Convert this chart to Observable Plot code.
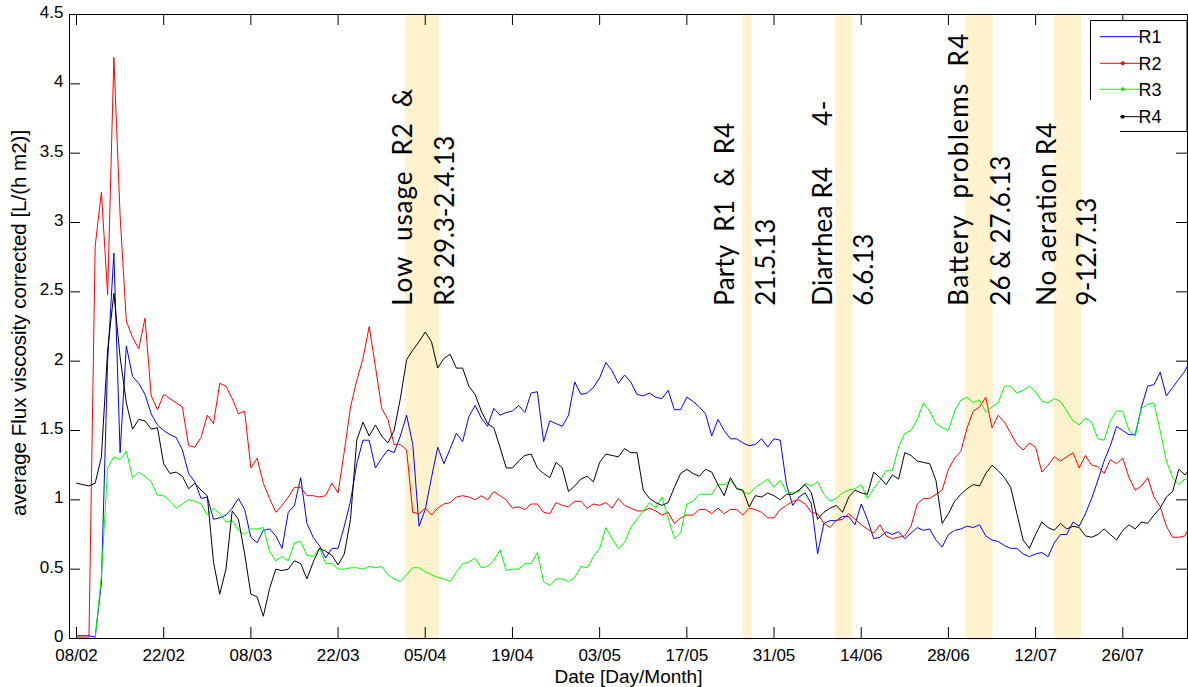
<!DOCTYPE html>
<html><head><meta charset="utf-8">
<script src="https://cdn.jsdelivr.net/npm/d3@7"></script>
<script src="https://cdn.jsdelivr.net/npm/@observablehq/plot@0.6"></script>
<style>
html,body{margin:0;padding:0;background:#fff;}
#chart{width:1188px;height:687px;overflow:hidden;}
</style></head><body><div id="chart"></div>
<script>
// ---- data ----
const startDate = "2013-02-08"; // first daily value
const seriesNames = ["R1", "R2", "R3", "R4"];
const r1 = [0.02,0.02,0.02,0.01,0.40,2.00,2.78,1.34,2.11,1.89,
 1.84,1.76,1.62,1.54,1.50,1.47,1.45,1.36,1.19,1.13,
 1.01,1.02,0.86,0.87,0.89,0.94,1.01,0.93,0.73,0.69,
 0.78,0.79,0.74,0.65,0.91,0.96,1.16,0.83,0.73,0.67,
 0.58,0.65,0.65,0.81,0.99,1.26,1.43,1.43,1.23,1.30,
 1.36,1.34,1.46,1.61,1.40,0.81,0.93,1.16,1.38,1.26,
 1.37,1.48,1.42,1.60,1.68,1.59,1.53,1.66,1.61,1.63,
 1.64,1.68,1.63,1.77,1.78,1.42,1.57,1.55,1.53,1.61,
 1.85,1.76,1.77,1.81,1.88,1.99,1.93,1.84,1.90,1.85,
 1.76,1.75,1.77,1.74,1.73,1.79,1.65,1.65,1.74,1.71,
 1.67,1.62,1.46,1.58,1.50,1.44,1.44,1.41,1.39,1.40,
 1.44,1.38,1.44,1.43,1.11,0.96,1.02,1.05,0.97,0.61,
 0.83,0.85,0.85,0.88,0.88,0.82,0.97,0.86,0.72,0.73,
 0.77,0.75,0.77,0.72,0.76,0.80,0.78,0.79,0.71,0.66,
 0.75,0.78,0.79,0.81,0.80,0.82,0.74,0.71,0.70,0.67,
 0.65,0.65,0.61,0.59,0.61,0.62,0.59,0.69,0.75,0.75,
 0.84,0.81,0.90,1.01,1.14,1.28,1.39,1.53,1.50,1.47,
 1.47,1.67,1.82,1.83,1.92,1.75,1.81,1.87,1.93,2.02];
const r2 = [0.01,0.01,0.01,2.83,3.22,2.48,4.19,3.05,2.29,2.17,
 2.09,2.31,1.75,1.65,1.76,1.73,1.70,1.67,1.39,1.38,
 1.45,1.61,1.55,1.84,1.82,1.73,1.62,1.64,1.23,1.30,
 1.12,1.01,0.91,0.96,1.02,1.09,1.09,1.03,1.03,1.02,
 1.03,1.12,1.05,1.35,1.67,1.86,2.02,2.25,1.96,1.66,
 1.58,1.40,1.40,1.36,0.91,0.90,0.94,0.89,0.94,0.97,
 0.98,1.02,1.03,1.02,1.00,1.03,1.00,1.06,1.03,1.00,
 0.94,0.95,0.93,0.97,0.97,0.91,0.90,0.98,0.96,0.95,
 0.99,0.99,0.94,0.97,0.96,0.98,0.94,1.01,0.96,0.94,
 0.92,0.92,0.94,0.92,0.89,0.91,0.83,0.87,0.89,0.89,
 0.93,0.93,0.90,0.94,0.90,0.93,0.93,0.89,0.94,0.93,
 0.91,0.87,0.87,0.93,0.96,0.99,1.00,0.97,0.91,0.90,
 0.83,0.80,0.85,0.86,0.90,0.86,0.82,0.79,0.76,0.82,
 0.74,0.72,0.73,0.74,0.81,0.97,1.01,1.01,1.04,1.07,
 1.22,1.30,1.35,1.52,1.64,1.67,1.74,1.52,1.61,1.56,
 1.48,1.40,1.36,1.41,1.38,1.20,1.25,1.31,1.28,1.31,
 1.34,1.23,1.32,1.25,1.24,1.19,1.29,1.26,1.30,1.16,
 1.07,1.10,1.16,1.02,0.95,0.81,0.73,0.73,0.74,0.84];
const r3 = [0,0,0,0,0.45,1.23,1.31,1.29,1.35,1.16,
 1.20,1.17,1.13,1.03,1.03,0.99,0.94,0.97,1.00,0.99,
 0.97,0.89,0.94,0.90,0.84,0.85,0.78,0.75,0.79,0.79,
 0.80,0.63,0.56,0.59,0.56,0.69,0.70,0.60,0.59,0.65,
 0.54,0.54,0.50,0.50,0.51,0.51,0.50,0.52,0.51,0.52,
 0.46,0.43,0.41,0.46,0.51,0.51,0.48,0.46,0.44,0.43,
 0.41,0.48,0.54,0.55,0.58,0.51,0.52,0.56,0.64,0.49,
 0.50,0.50,0.54,0.54,0.62,0.41,0.38,0.43,0.43,0.41,
 0.44,0.52,0.51,0.59,0.65,0.80,0.72,0.65,0.69,0.80,
 0.86,0.92,0.98,0.94,1.02,0.87,0.72,0.76,0.97,0.99,
 1.04,1.04,1.04,1.11,1.11,1.14,1.09,1.06,1.04,1.09,
 1.12,1.15,1.09,1.14,1.06,1.05,1.06,1.12,1.10,1.13,
 1.04,0.99,1.01,1.05,1.07,1.08,1.11,1.01,1.08,1.14,
 1.21,1.21,1.38,1.48,1.50,1.58,1.70,1.64,1.55,1.52,
 1.50,1.64,1.72,1.74,1.70,1.72,1.63,1.67,1.70,1.82,
 1.82,1.77,1.79,1.82,1.78,1.71,1.70,1.73,1.71,1.64,
 1.57,1.54,1.59,1.56,1.44,1.43,1.57,1.64,1.64,1.50,
 1.46,1.66,1.69,1.70,1.50,1.28,1.16,1.11,1.15,1.12];
const r4 = [1.12,1.11,1.10,1.12,1.31,2.08,2.49,2.03,1.70,1.51,
 1.58,1.57,1.51,1.52,1.26,1.19,1.20,1.17,1.08,1.12,
 1.07,1.03,0.55,0.32,0.50,0.92,0.86,0.61,0.32,0.30,
 0.16,0.36,0.50,0.49,0.50,0.56,0.54,0.43,0.55,0.65,
 0.63,0.60,0.53,0.61,0.86,1.43,1.56,1.46,1.54,1.46,
 1.41,1.50,1.73,2.01,2.08,2.14,2.21,2.14,1.95,2.02,
 2.05,1.95,1.95,1.82,1.76,1.64,1.55,1.52,1.38,1.23,
 1.23,1.28,1.32,1.33,1.23,1.19,1.16,1.27,1.23,1.06,
 1.10,1.15,1.17,1.13,1.27,1.33,1.32,1.31,1.37,1.34,
 1.34,1.07,1.01,0.98,0.96,0.98,1.09,1.19,1.22,1.19,
 1.17,1.22,1.20,1.11,1.03,1.16,1.08,1.07,0.95,1.03,
 1.02,1.05,1.03,1.00,1.04,1.04,1.07,1.11,1.05,0.86,
 0.91,0.94,0.96,0.91,1.02,1.07,1.05,1.04,1.20,1.16,
 1.11,1.18,1.15,1.34,1.32,1.28,1.27,1.26,1.14,0.83,
 0.90,0.99,1.04,1.08,1.11,1.10,1.19,1.25,1.21,1.16,
 1.09,0.90,0.71,0.65,0.75,0.84,0.80,0.78,0.83,0.79,
 0.81,0.80,0.74,0.73,0.75,0.79,0.75,0.71,0.78,0.82,
 0.79,0.84,0.83,0.89,0.94,1.02,1.06,1.22,1.18,1.24];

const xTickDates = ["2013-02-08","2013-02-22","2013-03-08","2013-03-22","2013-04-05","2013-04-19",
  "2013-05-03","2013-05-17","2013-05-31","2013-06-14","2013-06-28","2013-07-12","2013-07-26"];
const yTicks = [0, 0.5, 1, 1.5, 2, 2.5, 3, 3.5, 4, 4.5];

// shaded event periods
const bandStart = ["2013-04-01T20:00Z","2013-05-26T00:00Z","2013-06-09T21:30Z","2013-06-30T17:00Z","2013-07-15T00:00Z"];
const bandEnd   = ["2013-04-07T07:00Z","2013-05-27T12:00Z","2013-06-12T17:00Z","2013-07-05T05:00Z","2013-07-19T12:00Z"];

// vertical annotation lines
const annotLabels = [
  "Low\u00a0\u00a0usage\u00a0\u00a0R2\u00a0\u00a0&",
  "R3 29.3-2.4.13",
  "Party\u00a0\u00a0R1\u00a0\u00a0&\u00a0\u00a0R4",
  "21.5.13",
  "Diarrhea R4\u00a0\u00a0\u00a0\u00a0\u00a0\u00a04-",
  "6.6.13",
  "Battery\u00a0\u00a0problems\u00a0\u00a0R4",
  "26 & 27.6.13",
  "No aeration R4",
  "9-12.7.13"];
const annotDates = ["2013-04-01T13:00Z","2013-04-08T06:00Z","2013-05-23T05:00Z","2013-05-29T21:30Z",
  "2013-06-08T00:00Z","2013-06-14T12:00Z","2013-06-29T19:00Z","2013-07-06T12:00Z",
  "2013-07-13T21:30Z","2013-07-20T09:30Z"];

const xTitle = "Date [Day/Month]";
const yTitle = "average Flux viscosity corrected [L/(h m2)]";

// ---- styles / layout ----
const seriesColors = ["#0000ff", "#ff0000", "#00ff00", "#000000"];
const bandColor = "#fff2cc";
const annotLengths = [217, 170, 183, 87, 205, 72, 272, 150, 183, 108];
const W = 1188, H = 687, mL = 69, mR = 1, mT = 14, mB = 49;
const plotW = W - mL - mR, plotH = H - mT - mB, tickLen = 11;

// ---- build tables ----
const DAY = 864e5;
const t0 = new Date(startDate + "T00:00Z");
const rows = [];
[r1, r2, r3, r4].forEach((vals, k) => vals.forEach((v, i) =>
  rows.push({date: new Date(+t0 + i * DAY), value: v, series: seriesNames[k]})));
const xTicks = xTickDates.map(s => new Date(s + "T00:00Z"));
const bands = bandStart.map((s, i) => ({start: new Date(s), end: new Date(bandEnd[i])}));
const annots = annotLabels.map((t, i) => ({label: t, date: new Date(annotDates[i])}));
const xDomain = [new Date(+t0 - 1.124 * DAY), new Date(+t0 + 178.39 * DAY)];
const fmt = d3.utcFormat("%d/%m");

const svgNode = Plot.plot({
  width: W, height: H, marginLeft: mL, marginRight: mR, marginTop: mT, marginBottom: mB,
  style: {fontFamily: "'Liberation Sans', Arial, sans-serif", fontSize: "17px", color: "#000", background: "#fff", overflow: "visible"},
  x: {type: "utc", domain: xDomain, axis: null},
  y: {domain: [0, 4.5], axis: null},
  color: {domain: seriesNames, range: seriesColors},
  marks: [
    Plot.rect(bands, {x1: "start", x2: "end", fill: bandColor, insetBottom: -2}),
    Plot.line(rows, {x: "date", y: "value", z: "series", stroke: "series", strokeWidth: 1, clip: true}),
    Plot.frame({stroke: "#000", strokeWidth: 1}),
    Plot.tickX(xTicks, {x: d => d, insetTop: plotH - tickLen, stroke: "#000"}),
    Plot.tickX(xTicks, {x: d => d, insetBottom: plotH - tickLen, stroke: "#000"}),
    Plot.tickY(yTicks, {y: d => d, insetRight: plotW - tickLen, stroke: "#000"}),
    Plot.tickY(yTicks, {y: d => d, insetLeft: plotW - tickLen, stroke: "#000"}),
    Plot.text(xTicks, {x: d => d, text: d => fmt(d), frameAnchor: "bottom", lineAnchor: "top", dy: 10.5, fontSize: 17}),
    Plot.text(yTicks, {y: d => d, text: d => String(d), frameAnchor: "left", textAnchor: "end", dx: -6, dy: -2, fontSize: 17}),
    Plot.text([xTitle], {text: d => d, frameAnchor: "bottom", textAnchor: "middle", lineAnchor: "bottom", dy: 44, fontSize: 19}),
    Plot.text([yTitle], {text: d => d, frameAnchor: "left", textAnchor: "middle", rotate: -90, lineAnchor: "bottom", dx: -43.4, dy: -3.5, fontSize: 20.5}),
    Plot.text(annots, {x: "date", y: () => 2.40, text: "label", rotate: -90, textAnchor: "start", lineAnchor: "middle",
      fontSize: 26, fontFamily: "Lato, 'Open Sans', sans-serif", fill: "#000"})
  ]
});
document.getElementById("chart").appendChild(svgNode);

// stretch annotation lines to the original justified lengths
svgNode.querySelectorAll("text").forEach(el => {
  const i = annotLabels.indexOf(el.textContent);
  if (i >= 0) {
    el.setAttribute("textLength", annotLengths[i]);
    el.setAttribute("lengthAdjust", "spacing");
  }
});

// ---- legend (inside top-right) ----
const svg = d3.select(svgNode);
const lg = svg.append("g").attr("font-family", "'Liberation Sans', Arial, sans-serif").attr("font-size", 18);
lg.append("rect").attr("x", 1090.5).attr("y", 20.5).attr("width", 96.5).attr("height", 111).attr("fill", "#fff");
lg.append("path").attr("d", "M1120,131.5H1187V20.5H1090.5V100").attr("fill", "none").attr("stroke", "#000");
const legY = [36.7, 63.3, 89.3, 116.7];
const legX1 = [1100, 1100, 1100, 1120];
seriesNames.forEach((name, k) => {
  lg.append("line").attr("x1", legX1[k]).attr("x2", 1145).attr("y1", legY[k]).attr("y2", legY[k])
    .attr("stroke", seriesColors[k]).attr("stroke-width", 1);
  if (k > 0) lg.append("circle").attr("cx", 1122.7).attr("cy", legY[k]).attr("r", 2).attr("fill", seriesColors[k]);
  lg.append("text").attr("x", 1150).attr("y", legY[k]).attr("dy", "0.36em").attr("fill", "#000").text(name);
});
</script></body></html>
